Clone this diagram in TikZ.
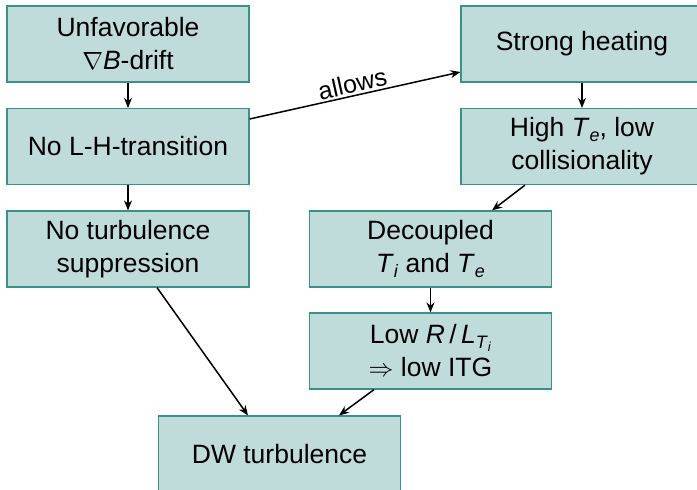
\documentclass[tikz,border=0pt]{standalone}
\usepackage{fontspec}
\setmainfont{Liberation Sans}
\usetikzlibrary{arrows.meta}
\definecolor{boxfill}{HTML}{C0DCDA}
\definecolor{boxline}{HTML}{3A918A}
\newcommand{\iv}[1]{\textit{#1}}
\begin{document}
\begin{tikzpicture}[x=1pt,y=-1pt,
  fbox/.style={draw=boxline, fill=boxfill, line width=1.2pt, minimum width=242pt, minimum height=76pt,
    inner sep=0pt, align=center, font=\fontsize{26.5}{33}\selectfont},
  conn/.style={-{Stealth[length=10pt,width=8pt]}, line width=1.5pt}]
\useasboundingbox (0,0) rectangle (697,490);
\clip (0,0) rectangle (697,490);
\node[fbox] (a) at (128,44) {Unfavorable\\$\nabla$\iv{B}-drift};
\node[fbox] (b) at (128,146.5) {No L-H-transition};
\node[fbox] (c) at (128,249) {No turbulence\\suppression};
\node[fbox] (d) at (582,44) {Strong heating};
\node[fbox] (e) at (582,146.5) {High \iv{T}\raisebox{-0.3ex}{\fontsize{18}{18}\selectfont\iv{e}}, low\\collisionality};
\node[fbox] (f) at (430.5,249) {Decoupled\\\iv{T}\raisebox{-0.3ex}{\fontsize{18}{18}\selectfont\iv{i}} and \iv{T}\raisebox{-0.3ex}{\fontsize{18}{18}\selectfont\iv{e}}};
\node[fbox] (g) at (430.5,351) {Low \iv{R}\,/\,\iv{L}\raisebox{-0.35ex}{\fontsize{18}{18}\selectfont\iv{T}\raisebox{-0.3ex}{\fontsize{13}{13}\selectfont\iv{i}}}\\$\Rightarrow$ low ITG};
\node[fbox] (h) at (279.5,454) {DW turbulence};
\draw[conn] (a.south) -- (b.north);
\draw[conn] (b.south) -- (c.north);
\draw[conn] (d.south) -- (e.north);
\draw[conn] (f.south) -- (g.north);
\draw[conn] (b.east |- 0,119) -- node[above, sloped, font=\fontsize{25}{25}\selectfont, inner sep=2pt] {allows} (d.west |- 0,72);
\draw[conn] (e.south -| 525,0) -- (f.north -| 492,0);
\draw[conn] (g.south -| 374,0) -- (h.north -| 339,0);
\draw[conn] (c.south -| 157,0) -- (h.north -| 248,0);
\end{tikzpicture}
\end{document}
